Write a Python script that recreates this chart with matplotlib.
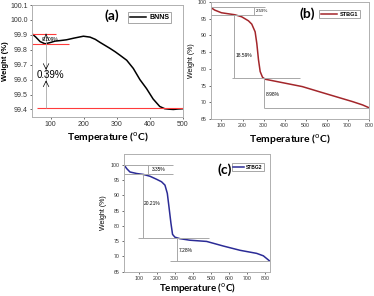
import numpy as np
import matplotlib
matplotlib.use("Agg")
from matplotlib import pyplot as plt

# (a) BNNS
temp_a = [44, 55, 68, 83, 98, 113, 130, 148, 170, 199, 219, 235, 249, 264, 279, 295, 310, 330,
          350, 370, 390, 410, 430, 445, 458, 471, 485, 501]
weight_a = [99.907, 99.885, 99.855, 99.84, 99.848, 99.858, 99.862, 99.867, 99.878, 99.891,
            99.885, 99.87, 99.85, 99.83, 99.81, 99.787, 99.763, 99.73, 99.675, 99.60, 99.54,
            99.47, 99.42, 99.405, 99.402, 99.40, 99.403, 99.405]

# (b) STBG1
temp_b = [49, 68, 100, 164, 196, 228, 244, 260, 268, 276, 284, 295, 308, 404, 484, 563, 643,
          723, 771, 800]
weight_b = [98.4, 97.6, 96.8, 96.2, 95.6, 94.4, 93.4, 91.1, 87.6, 82.7, 79.2, 77.5, 76.9,
            75.7, 74.7, 73.2, 71.7, 70.2, 69.2, 68.4]

# (c) STBG2
temp_c = [21, 34, 52, 89, 126, 163, 200, 227, 246, 259, 268, 279, 288, 301, 329, 384, 477,
          569, 662, 754, 791, 824]
weight_c = [99.8, 98.7, 97.6, 97.1, 96.8, 96.2, 95.2, 94.4, 93.3, 90.6, 86.3, 80.9, 77.2,
            76.3, 75.8, 75.3, 74.9, 73.4, 72.0, 71.0, 70.2, 68.6]

steps_b = ["2.59%", "18.59%", "8.98%"]
steps_c = ["3.35%", "20.21%", "7.28%"]

plt.rcParams["font.family"] = ["Liberation Sans", "DejaVu Sans"]
fig = plt.figure(figsize=(3.74, 2.96), dpi=100)
gray = "#a8a8a8"
xlab = "Temperature ($^{\\rm o}$C)"


def style(ax, fs):
    for s in ax.spines.values():
        s.set_color("#b0b0b0")
        s.set_linewidth(0.7)
    ax.tick_params(labelsize=fs, length=1.5, width=0.5, pad=1.5, colors="#333333")


def legend(ax, anchor, size, hl):
    leg = ax.legend(loc="upper right", bbox_to_anchor=anchor,
                    prop={"weight": "bold", "size": size}, handlelength=hl,
                    borderpad=0.25, handletextpad=0.5, fancybox=False,
                    edgecolor="#999999", framealpha=1)
    leg.get_frame().set_linewidth(0.6)


# ---- panel (a)
ax = fig.add_axes([0.086, 0.605, 0.403, 0.378])
ax.plot(temp_a, weight_a, color="black", lw=1.1, label="BNNS")
ax.set_xlim(44, 500)
ax.set_ylim(99.35, 100.1)
ax.set_xticks([100, 200, 300, 400, 500])
ax.set_yticks(np.arange(99.4, 100.11, 0.1))
ax.yaxis.set_major_formatter(matplotlib.ticker.FormatStrFormatter("%.1f"))
style(ax, 5)
ax.hlines(weight_a[0], 44, 116, color="#ff3b3b", lw=0.8)
ax.hlines(99.84, 44, 154, color="#ff3b3b", lw=0.8)
ax.hlines(99.407, 60, 500, color="#ff3b3b", lw=0.8)
ax.vlines(86, 99.407, 99.907, color=gray, lw=0.6)
ax.annotate("", xy=(86, 99.907), xytext=(86, 99.885),
            arrowprops=dict(arrowstyle="->", lw=0.5, color="black"))
ax.text(98, 99.866, "0.109%", fontsize=3.5, ha="center", va="center")
ax.annotate("", xy=(86, 99.665), xytext=(86, 99.70),
            arrowprops=dict(arrowstyle="->", lw=0.5, color="black"))
ax.annotate("", xy=(86, 99.595), xytext=(86, 99.56),
            arrowprops=dict(arrowstyle="->", lw=0.5, color="black"))
ax.text(98, 99.632, "0.39%", fontsize=7, ha="center", va="center")
ax.text(0.53, 0.905, "(a)", transform=ax.transAxes, fontsize=10, fontweight="bold",
        ha="center", va="center", family="Lato")
legend(ax, (0.945, 0.965), 5, 2.3)
ax.set_xlabel(xlab, fontsize=7.5, fontweight="bold", family="Lato", labelpad=2)
ax.set_ylabel("Weight (%)", fontsize=5.5, fontweight="bold", labelpad=1)

# ---- panel (b)
ax = fig.add_axes([0.564, 0.598, 0.422, 0.395])
ax.plot(temp_b, weight_b, color="#a3262b", lw=1.1, label="STBG1")
ax.set_xlim(50, 800)
ax.set_ylim(65, 100)
ax.set_xticks(range(100, 801, 100))
ax.set_yticks(range(65, 101, 5))
style(ax, 3.8)
ax.hlines(98.4, 50, 305, color=gray, lw=0.7)
ax.hlines(96.0, 50, 292, color=gray, lw=0.7)
ax.vlines(257, 96.0, 98.4, color=gray, lw=0.7)
ax.text(262, 97.2, steps_b[0], fontsize=3.2, va="center")
ax.vlines(161, 77.4, 96.0, color=gray, lw=0.7)
ax.hlines(77.4, 148, 471, color=gray, lw=0.7)
ax.text(167, 84, steps_b[1], fontsize=3.5, va="center")
ax.vlines(300, 68.4, 77.4, color=gray, lw=0.7)
ax.hlines(68.4, 300, 800, color=gray, lw=0.7)
ax.text(312, 72.4, steps_b[2], fontsize=3.5, va="center")
ax.text(0.61, 0.905, "(b)", transform=ax.transAxes, fontsize=10, fontweight="bold",
        ha="center", va="center", family="Lato")
legend(ax, (0.962, 0.955), 4, 3)
ax.set_xlabel(xlab, fontsize=7.5, fontweight="bold", family="Lato", labelpad=3)
ax.set_ylabel("Weight (%)", fontsize=5, labelpad=2)

# ---- panel (c)
ax = fig.add_axes([0.332, 0.082, 0.390, 0.398])
ax.plot(temp_c, weight_c, color="#2b2b96", lw=1.1, label="STBG2")
ax.set_xlim(20, 828)
ax.set_ylim(65, 103.5)
ax.set_xticks(range(100, 801, 100))
ax.set_yticks(range(65, 101, 5))
style(ax, 3.8)
ax.hlines(99.8, 20, 288, color=gray, lw=0.7)
ax.hlines(96.9, 20, 288, color=gray, lw=0.7)
ax.vlines(150, 96.9, 99.8, color=gray, lw=0.7)
ax.text(172, 98.4, steps_c[0], fontsize=3.5, va="center")
ax.vlines(126, 76.1, 96.9, color=gray, lw=0.7)
ax.hlines(76.1, 98, 491, color=gray, lw=0.7)
ax.text(131, 87.4, steps_c[1], fontsize=3.5, va="center")
ax.vlines(314, 68.6, 76.1, color=gray, lw=0.7)
ax.hlines(68.6, 274, 824, color=gray, lw=0.7)
ax.text(324, 71.8, steps_c[2], fontsize=3.5, va="center")
ax.text(0.69, 0.866, "(c)", transform=ax.transAxes, fontsize=10, fontweight="bold",
        ha="center", va="center", family="Lato")
legend(ax, (0.975, 0.94), 3.5, 2.2)
ax.set_xlabel(xlab, fontsize=7, fontweight="bold", family="Lato", labelpad=0.5)
ax.set_ylabel("Weight (%)", fontsize=5, labelpad=3)

fig.savefig("out.png", dpi=100)
